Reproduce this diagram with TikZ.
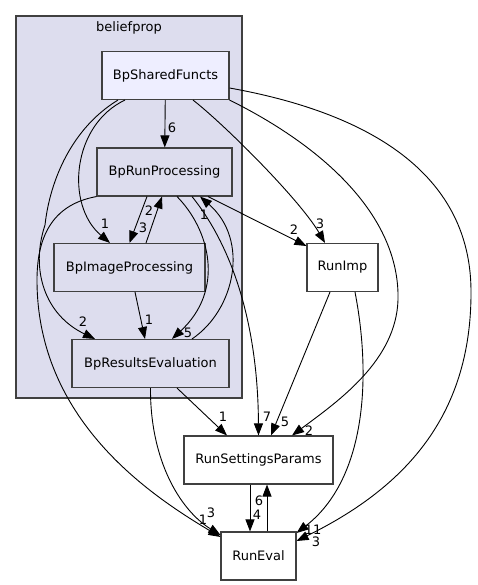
\documentclass[tikz,border=0pt]{standalone}
\usepackage{fontspec}
\setmainfont{DejaVu Sans}
\usetikzlibrary{positioning}
\usetikzlibrary{arrows.meta}

\definecolor{clusterfill}{HTML}{DDDDEE}
\definecolor{topfill}{HTML}{EEEEFF}
\definecolor{boxline}{HTML}{404040}

\tikzset{
  clusterbox/.style={draw=boxline, fill=clusterfill, line width=1.1pt},
  subdir/.style={draw=boxline, fill=clusterfill, line width=1.1pt, minimum height=48pt, inner sep=0pt},
  topdir/.style={subdir, fill=topfill},
  otherdir/.style={subdir, fill=white},
  dep/.style={line width=0.9pt, -{Triangle[length=12pt,width=9pt]}},
  num/.style={inner sep=0pt}
}

\begin{document}
\begin{tikzpicture}[x=1pt,y=-1pt,font=\fontsize{13}{15}\selectfont]
\useasboundingbox (0,0) rectangle (477,585);

\draw[clusterbox] (16,16) rectangle (242,398);
\node (beliefprop) at (129,28) {beliefprop};

\node[topdir,minimum width=127pt] (shared) at (165.5,75.5) {BpSharedFuncts};
\node[subdir,minimum width=135pt] (run) at (164.5,172) {BpRunProcessing};
\node[subdir,minimum width=151pt] (img) at (129.5,267.5) {BpImageProcessing};
\node[subdir,minimum width=157pt] (res) at (150.5,363.5) {BpResultsEvaluation};

\node[otherdir,minimum width=71pt] (imp) at (342.5,267.5) {RunImp};
\node[otherdir,minimum width=149pt] (rsp) at (258.5,460) {RunSettingsParams};
\node[otherdir,minimum width=75pt] (eval) at (258.5,556) {RunEval};

\draw[dep] (shared) -- (run) node[num] (c1) at (172,128) {6};
\draw[dep] ([xshift=-40.5pt]shared.south) .. controls (72,125) and (65,205) .. ([xshift=-19.5pt]img.north) node[num] (c2) at (105,224) {1};
\draw[dep] ([xshift=-47.5pt]shared.south) .. controls (72,128) and (50,180) .. (45,225) .. controls (30,270) and (45,315) .. ([xshift=-55.5pt]res.north) node[num] (c3) at (83,322) {2};
\draw[dep] ([xshift=27.5pt]shared.south) .. controls (225,125) and (300,200) .. ([xshift=-17.5pt]imp.north) node[num] (c4) at (320,224) {3};
\draw[dep] (shared.south east) .. controls (330,150) and (400,220) .. (398,300) .. controls (396,360) and (340,400) .. ([xshift=33.5pt]rsp.north) node[num] (c5) at (309,431) {2};
\draw[dep] ([yshift=-12.5pt]shared.east) .. controls (380,115) and (470,180) .. (471,290) .. controls (472,420) and (400,490) .. ([yshift=15pt]eval.east) node[num] (c6) at (316,542) {3};

\draw[dep] ([xshift=-17.5pt]run.south) -- (img.north) node[num] (c7) at (143,228) {3};
\draw[dep] ([xshift=16.5pt]img.north) -- ([xshift=-2.5pt]run.south) node[num] (c8) at (149,211) {2};
\draw[dep] ([xshift=12.5pt]run.south) .. controls (210,230) and (225,290) .. ([xshift=21.5pt]res.north) node[num] (c9) at (188,333) {5};
\draw[dep] ([xshift=41.5pt]res.north) .. controls (235,310) and (250,240) .. ([xshift=35.5pt]run.south) node[num] (c10) at (204,215) {1};
\draw[dep] ([xshift=43.5pt]run.south) -- ([yshift=21.5pt]imp.west) node[num] (c11) at (294,230) {2};
\draw[dep] ([xshift=27.5pt]run.south) .. controls (235,250) and (258,330) .. (rsp.north) node[num] (c12) at (267,417) {7};
\draw[dep] (run.south west) .. controls (50,205) and (37,240) .. (37,280) .. controls (37,420) and (150,495) .. ([yshift=19pt]eval.west) node[num] (c13) at (203,520) {1};

\draw[dep] ([xshift=5.5pt]img.south) -- ([xshift=-5.5pt]res.north) node[num] (c14) at (149,320) {1};
\draw[dep] ([xshift=26.5pt]res.south) -- ([xshift=-31.5pt]rsp.north) node[num] (c15) at (223,417) {1};
\draw[dep] (res.south) .. controls (150,460) and (180,510) .. ([yshift=21pt]eval.west) node[num] (c16) at (211,513) {3};

\draw[dep] ([xshift=-12.5pt]imp.south) -- ([xshift=12.5pt]rsp.north) node[num] (c17) at (285,422) {5};
\draw[dep] ([xshift=12.5pt]imp.south) .. controls (372,380) and (365,480) .. ([yshift=23pt]eval.east) node[num] (c18) at (313,530) {11};

\draw[dep] ([xshift=-8.5pt]rsp.south) -- ([xshift=-8.5pt]eval.north) node[num] (c19) at (257,515) {4};
\draw[dep] ([xshift=8.5pt]eval.north) -- ([xshift=8.5pt]rsp.south) node[num] (c20) at (259,501) {6};

\end{tikzpicture}
\end{document}
